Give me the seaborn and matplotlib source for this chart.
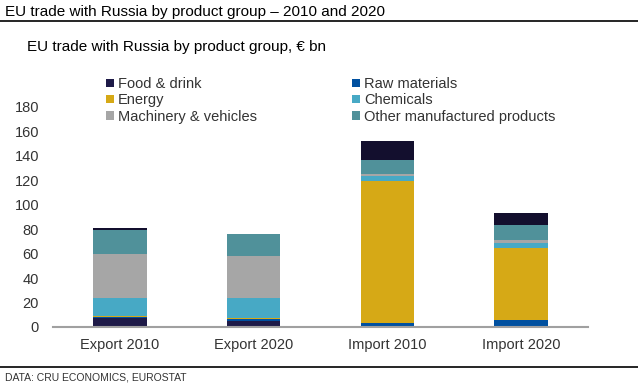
import numpy as np
import seaborn as sns
import matplotlib.pyplot as plt
from matplotlib.patches import Patch
from matplotlib.lines import Line2D

sns.set_style("white")
plt.rcParams['font.family'] = ['Liberation Sans', 'DejaVu Sans']

# Data (EUR bn), stacked bottom to top
categories = ["Export 2010", "Export 2020", "Import 2010", "Import 2020"]
food = [7.7, 4.9, 0.5, 0.8]
raw_materials = [0.5, 1.4, 2.8, 5.0]
energy = [0.8, 1.1, 116.3, 59.2]
chemicals = [14.9, 16.5, 3.9, 4.1]
machinery = [36.2, 34.5, 1.6, 1.7]
other_manuf = [18.9, 17.3, 11.5, 12.3]
unclassified = [1.7, 0.8, 15.7, 9.9]

series = [
    ("Food & drink", food, "#1e1a48"),
    ("Raw materials", raw_materials, "#0050a0"),
    ("Energy", energy, "#d6a916"),
    ("Chemicals", chemicals, "#47a9c5"),
    ("Machinery & vehicles", machinery, "#a6a6a6"),
    ("Other manufactured products", other_manuf, "#50919a"),
    ("Other", unclassified, "#130f2e"),
]

text_col = "#333333"
fig = plt.figure(figsize=(6.38, 3.91), dpi=100)
W, H = 638, 391
ax = fig.add_axes([53 / W, (H - 327) / H, (588 - 53) / W, (327 - 107) / H])

# stacked bars: draw cumulative totals from the top layer down
cum = np.cumsum(np.array([s[1] for s in series]), axis=0)
for i in range(len(series) - 1, -1, -1):
    sns.barplot(x=categories, y=cum[i], color=series[i][2], width=0.4,
                saturation=1, errorbar=None, ax=ax, linewidth=0)

ax.set_ylim(0, 180)
ax.set_yticks(range(0, 181, 20))
ax.set_xlim(-0.5, 3.5)
ax.set_xlabel("")
ax.set_ylabel("")
sns.despine(ax=ax, left=True)
ax.spines['bottom'].set_color("#a0a0a0")
ax.spines['bottom'].set_linewidth(1.5)
ax.tick_params(axis='both', length=0, labelsize=10.5, colors=text_col)
ax.tick_params(axis='y', pad=10)
ax.tick_params(axis='x', pad=8)

# legend in two columns, row-major order
def handle(c):
    return Patch(facecolor=c, edgecolor='none')

left = [series[0], series[2], series[4]]
right = [series[1], series[3], series[5]]
for items, x0 in [(left, 99), (right, 345)]:
    fig.legend([handle(s[2]) for s in items], [s[0] for s in items],
               loc='upper left', bbox_to_anchor=(x0 / W, 1 - 70 / H),
               frameon=False, fontsize=10.5, handlelength=0.5, handleheight=0.5,
               handletextpad=0.3, labelspacing=0.15, borderpad=0, labelcolor=text_col)

# titles, rules and source
fig.text(5 / W, 1 - 12 / H, "EU trade with Russia by product group – 2010 and 2020",
         fontsize=11, color="#000000", va='center', ha='left')
fig.add_artist(Line2D([0, 1], [1 - 21 / H, 1 - 21 / H], color="black", lw=1.2))
fig.text(27 / W, 1 - 47 / H, "EU trade with Russia by product group, € bn",
         fontsize=11, color="#000000", va='center', ha='left')
fig.add_artist(Line2D([0, 1], [1 - 367 / H, 1 - 367 / H], color="black", lw=1.2))
fig.text(5 / W, 1 - 378 / H, "DATA: CRU ECONOMICS, EUROSTAT",
         fontsize=7.5, color=text_col, va='center', ha='left')

fig.savefig("out.png", dpi=100)
